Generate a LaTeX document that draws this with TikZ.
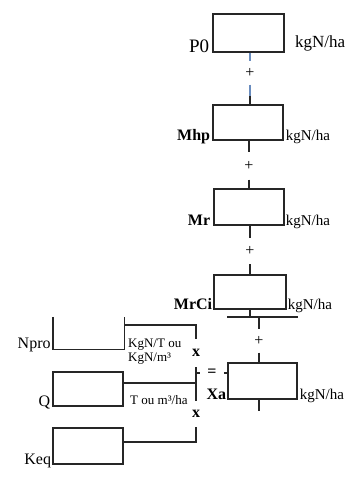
\documentclass[tikz,border=0pt]{standalone}
\usepackage{fontspec}
\setmainfont{Liberation Serif}
\usepackage{tikz}
\definecolor{dashblue}{RGB}{105,140,190}

\begin{document}
\begin{tikzpicture}[x=1pt,y=-1pt,font=\fontsize{16}{18}\selectfont,
    box/.style={draw=black!85,line width=1.4pt,inner sep=0pt},
    ln/.style={draw=black!85,line width=1.4pt},
    dl/.style={draw=dashblue,line width=1.4pt},
    op/.style={inner sep=0pt,minimum width=10pt,minimum height=#1},
    lab/.style={anchor=base east,inner sep=0pt},
    unit/.style={anchor=base west,inner sep=0pt},
    small/.style={unit,font=\fontsize{13}{13}\selectfont}]
  \useasboundingbox (0,0) rectangle (348,498);

  \node[box,minimum width=71pt,minimum height=38pt] (p0) at (248.5,33) {};
  \node[box,minimum width=70pt,minimum height=35pt] (mhp) at (248,122.5) {};
  \node[box,minimum width=70pt,minimum height=36pt] (mr) at (249,207) {};
  \node[box,minimum width=72pt,minimum height=34pt] (mrci) at (250,292) {};
  \node[box,minimum width=69pt,minimum height=36pt] (xa) at (262.5,381) {};
  \node[inner sep=0pt,minimum width=71pt,minimum height=32pt] (npro) at (88.5,333) {};
  \node[box,minimum width=70pt,minimum height=34pt] (q) at (88,389) {};
  \node[box,minimum width=70pt,minimum height=36pt] (keq) at (88,446) {};
  \draw[ln] (npro.north west) -- (npro.south west) -- (npro.south east) -- (npro.north east);

  \node[lab,font=\fontsize{19}{19}\selectfont] at ([xshift=-3pt]p0.south west) {P0};
  \node[unit,font=\fontsize{17}{17}\selectfont] at (295,47) {kgN/ha};
  \node[lab] at ([xshift=-2pt]mhp.south west) {\bfseries Mhp};
  \node[unit,font=\fontsize{15}{15}\selectfont] at ([xshift=2pt]mhp.south east) {kgN/ha};
  \node[lab] at ([xshift=-3pt]mr.south west) {\bfseries Mr};
  \node[unit,font=\fontsize{15}{15}\selectfont] at ([xshift=1pt]mr.south east) {kgN/ha};
  \node[lab] at ([xshift=-1pt]mrci.south west) {\bfseries MrCi};
  \node[unit,font=\fontsize{15}{15}\selectfont] at ([xshift=1pt]mrci.south east) {kgN/ha};
  \node[lab] at ([xshift=-1pt]xa.south west) {\bfseries Xa};
  \node[unit,font=\fontsize{15}{15}\selectfont] at ([xshift=2pt]xa.south east) {kgN/ha};
  \node[lab] at ([xshift=-2pt,yshift=1pt]npro.south west) {Npro};
  \node[lab] at ([xshift=-2pt]q.south west) {Q};
  \node[lab] at ([xshift=-1pt]keq.south west) {Keq};
  \node[small] at (128,347) {KgN/T ou};
  \node[small] at (128,361) {KgN/m³};
  \node[small] at (130,404) {T ou m³/ha};

  \node[op=23pt] (pl1) at (250,73) {+};
  \node[op=27pt] (pl2) at (249,166) {+};
  \node[op=26pt] (pl3) at (250,251) {+};
  \node[op=23pt] (pl4) at (259,341) {+};
  \node[op=28pt] (x1) at (196,353) {\bfseries x};
  \node[op=25pt] (x2) at (196,414) {\bfseries x};
  \node[inner xsep=7pt,inner ysep=0pt] (eq) at (212,373) {\bfseries =};

  \coordinate (c1) at (250,96);
  \coordinate (bl) at (227,317);
  \coordinate (br) at (298,317);
  \coordinate (nj) at (196,325);
  \coordinate (qj) at (196,383);
  \coordinate (kj) at (196,442);

  \draw[dl] (pl1 |- p0.south) -- (pl1);
  \draw[dl] (pl1) -- (c1);
  \draw[ln] (c1) -- (pl1 |- mhp.north);
  \draw[ln] (pl2 |- mhp.south) -- (pl2);
  \draw[ln] (pl2) -- (pl2 |- mr.north);
  \draw[ln] (pl3 |- mr.south) -- (pl3);
  \draw[ln] (pl3) -- (pl3 |- mrci.north);
  \draw[ln] (mrci.south) -- (mrci.south |- bl);
  \draw[ln] (bl) -- (br);
  \draw[ln] (pl4 |- bl) -- (pl4);
  \draw[ln] (pl4) -- (pl4 |- xa.north);
  \draw[ln] (pl4 |- xa.south) -- ++(0,11);

  \draw[ln] (npro.east |- nj) -| (x1);
  \draw[ln] (x1) -- (x2);
  \draw[ln] (q.east |- qj) -- (qj);
  \draw[ln] (keq.east |- kj) -- (kj) -- (x2);
  \draw[ln] (x1 |- eq) -- (eq);
  \draw[ln] (eq) -- (xa.west |- eq);
\end{tikzpicture}
\end{document}
